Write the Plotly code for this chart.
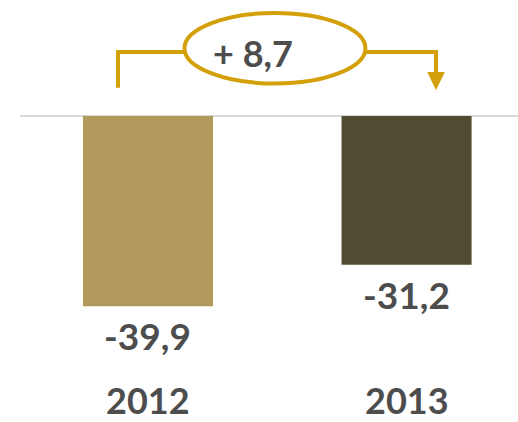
import plotly.graph_objects as go

categories = ["2012", "2013"]
values = [-39.9, -31.2]
bar_colors = ["#B1985D", "#514C31"]

def fmt(v, sign=False):
    s = f"{abs(v):.1f}".replace(".", ",")
    if v < 0:
        return "-" + s
    return ("+ " + s) if sign else s

delta = round(values[1] - values[0], 1)

gold = "#D4A00A"
txt = "#4D4D4D"
font = "Lato"

xs = [0, 1]
fig = go.Figure()
fig.add_trace(go.Bar(
    x=xs, y=values, width=0.503,
    marker=dict(color=bar_colors, line=dict(width=0)),
    hoverinfo="skip",
))

ann = []
for x, v, c in zip(xs, values, categories):
    ann.append(dict(x=x, y=v - 6.2, text=f"<b>{fmt(v)}</b>", showarrow=False,
                    font=dict(family=font, size=37, color=txt), xanchor="center", yanchor="middle"))
    ann.append(dict(x=x, y=-59.6, text=f"<b>{c}</b>", showarrow=False,
                    font=dict(family=font, size=36, color=txt), xanchor="center", yanchor="middle",
                    borderpad=0))
ann.append(dict(x=0.406, y=13.2, text=f"<b>{fmt(delta, sign=True)}</b>", showarrow=False,
                font=dict(family=font, size=36, color=txt), xanchor="center", yanchor="middle"))

# connector geometry (relative to bars)
lx = xs[0] - 0.116
rx = xs[1] + 0.114
hy = 13.4
shapes = [
    dict(type="line", xref="paper", x0=0, x1=1, yref="y", y0=0, y1=0,
         line=dict(color="#D9D9D9", width=2), layer="below"),
    dict(type="path", xref="x", yref="y",
         path=f"M {lx},5.9 L {lx},{hy} L 0.143,{hy}",
         line=dict(color=gold, width=4)),
    dict(type="path", xref="x", yref="y",
         path=f"M 0.839,{hy} L {rx},{hy} L {rx},8.6",
         line=dict(color=gold, width=4)),
    dict(type="path", xref="x", yref="y",
         path=f"M {rx-0.034},9.2 L {rx+0.034},9.2 L {rx},5.4 Z",
         fillcolor=gold, line=dict(color=gold, width=0)),
    dict(type="circle", xref="x", yref="y", x0=0.141, x1=0.841, y0=6.8, y1=21.6,
         line=dict(color=gold, width=4), fillcolor="rgba(0,0,0,0)"),
]

fig.update_layout(
    width=518, height=422,
    margin=dict(l=20, r=0, t=0, b=0),
    paper_bgcolor="white", plot_bgcolor="white",
    showlegend=False,
    xaxis=dict(range=[-0.495, 1.431], visible=False, fixedrange=True),
    yaxis=dict(range=[-64.15, 24.32], visible=False, fixedrange=True),
    annotations=ann, shapes=shapes,
)
fig.write_html("out.html")
